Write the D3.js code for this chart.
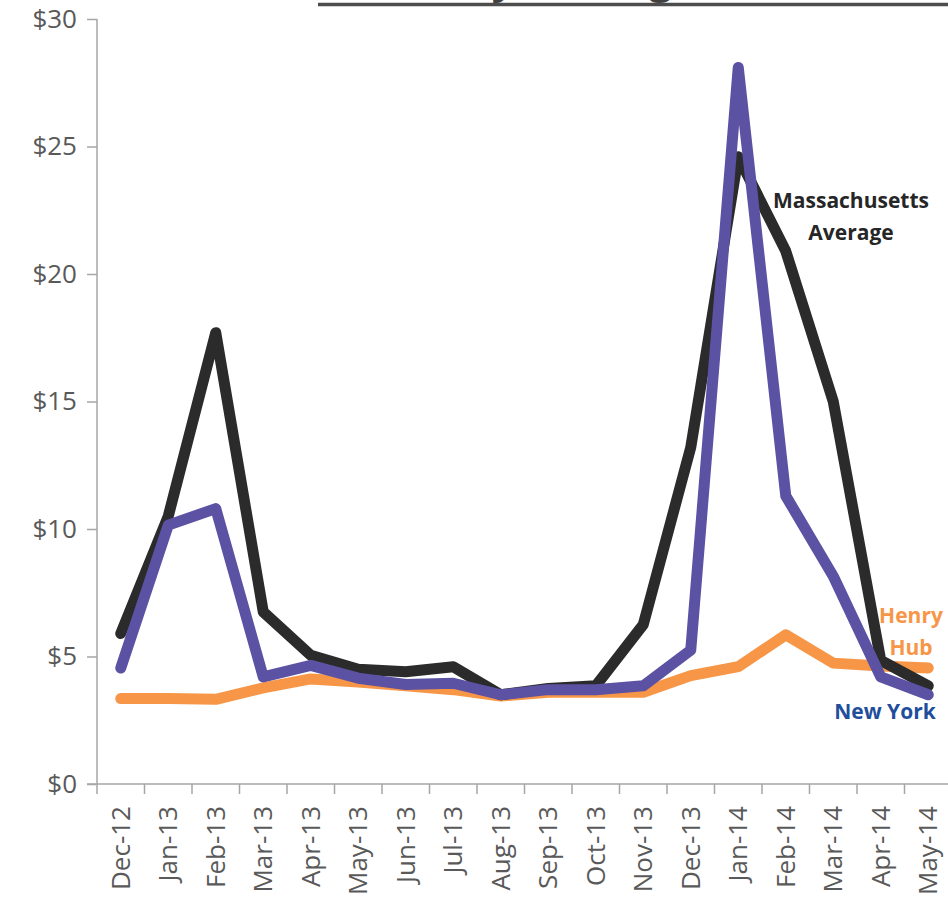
<!DOCTYPE html>
<html>
<head>
<meta charset="utf-8">
<script src="https://cdn.jsdelivr.net/npm/d3@7"></script>
<style>
  html, body { margin: 0; padding: 0; background: #fff; overflow: hidden; }
  svg { display: block; }
</style>
</head>
<body>
<script>
// 月份类目
const months = ["Dec-12", "Jan-13", "Feb-13", "Mar-13", "Apr-13", "May-13", "Jun-13", "Jul-13", "Aug-13",
  "Sep-13", "Oct-13", "Nov-13", "Dec-13", "Jan-14", "Feb-14", "Mar-14", "Apr-14", "May-14"];

// 各系列数值（$/MMBtu，从图上估读）
const massAvg = [5.9, 10.5, 17.7, 6.75, 5.05, 4.5, 4.4, 4.6, 3.5, 3.75, 3.85, 6.25, 13.2, 24.6, 20.9, 15.0, 4.85, 3.85];
const newYork = [4.55, 10.15, 10.8, 4.2, 4.65, 4.15, 3.9, 3.95, 3.5, 3.7, 3.7, 3.85, 5.25, 28.1, 11.3, 8.15, 4.2, 3.5];
const henryHub = [3.35, 3.35, 3.32, 3.77, 4.12, 4.0, 3.85, 3.7, 3.45, 3.6, 3.6, 3.6, 4.25, 4.6, 5.85, 4.74, 4.63, 4.55];

const yTicks = [0, 5, 10, 15, 20, 25, 30];

const width = 948;
const height = 901;
const margin = { top: 19, left: 97, bottom: 117 };
const plotBottom = height - margin.bottom; // 784
const bandW = 47.5;

const svg = d3.create("svg")
  .attr("width", width)
  .attr("height", height)
  .style("font-family", "'Open Sans', sans-serif");

// x 使用 band 比例尺，点位于每个月的中间
const x = d3.scaleBand()
  .domain(months)
  .range([margin.left, margin.left + bandW * months.length])
  .padding(0);

const y = d3.scaleLinear()
  .domain([0, 30])
  .range([plotBottom, margin.top]);

const axisColor = "#a6a6a6";

// y 轴
const gy = svg.append("g")
  .attr("transform", `translate(${margin.left},0)`)
  .call(d3.axisLeft(y).tickValues(yTicks).tickSize(10).tickPadding(10).tickFormat(d => "$" + d));
gy.select(".domain").attr("stroke", axisColor).attr("stroke-width", 1.5).attr("d", `M0,${margin.top}V${plotBottom}`);
gy.selectAll(".tick line").attr("stroke", axisColor).attr("stroke-width", 1.5);
gy.selectAll(".tick text")
  .attr("fill", "#595959")
  .style("font-size", "26px")
  .style("font-family", "'Open Sans', sans-serif");

// x 轴：刻度线在类目之间
const gx = svg.append("g")
  .attr("transform", `translate(0,${plotBottom})`);
gx.append("line")
  .attr("x1", margin.left - 10).attr("x2", width)
  .attr("stroke", axisColor).attr("stroke-width", 1.5);
gx.selectAll("line.tk")
  .data(months.concat(["__end"]))
  .join("line")
  .attr("class", "tk")
  .attr("x1", (d, i) => i < months.length ? x(d) : x(months[months.length - 1]) + x.bandwidth())
  .attr("x2", (d, i) => i < months.length ? x(d) : x(months[months.length - 1]) + x.bandwidth())
  .attr("y1", 0).attr("y2", 10)
  .attr("stroke", axisColor).attr("stroke-width", 1.5);
gx.selectAll("text")
  .data(months)
  .join("text")
  .attr("transform", d => `translate(${x(d) + x.bandwidth() / 2},22) rotate(-90)`)
  .attr("text-anchor", "end")
  .attr("dy", "0.35em")
  .attr("fill", "#595959")
  .style("font-size", "26px")
  .text(d => d);

// 折线
const line = d3.line()
  .x((d, i) => x(months[i]) + x.bandwidth() / 2)
  .y(d => y(d));

const series = [
  { name: "Henry Hub", values: henryHub, color: "#f79646" },
  { name: "Massachusetts Average", values: massAvg, color: "#2b2b2b" },
  { name: "New York", values: newYork, color: "#5b52a3" }
];

svg.append("g")
  .attr("fill", "none")
  .attr("stroke-width", 11)
  .attr("stroke-linejoin", "round")
  .attr("stroke-linecap", "round")
  .selectAll("path")
  .data(series)
  .join("path")
  .attr("stroke", d => d.color)
  .attr("d", d => line(d.values));

// 系列标签
const labels = [
  { lines: ["Massachusetts", "Average"], color: "#262626", x: 851, y: 208 },
  { lines: ["Henry", "Hub"], color: "#f79646", x: 911, y: 623 },
  { lines: ["New York"], color: "#1f4e9c", x: 885, y: 719 }
];
const lab = svg.append("g")
  .style("font-size", "21px")
  .style("font-weight", "bold")
  .attr("text-anchor", "middle");
labels.forEach(l => {
  l.lines.forEach((t, i) => {
    lab.append("text")
      .attr("x", l.x)
      .attr("y", l.y + i * 32)
      .attr("fill", l.color)
      .text(t);
  });
});

// 被裁掉的标题与下划线
svg.append("text")
  .attr("x", 340)
  .attr("y", -7)
  .attr("fill", "#404040")
  .style("font-size", "42px")
  .style("font-weight", "bold")
  .text("Monthly Average Prices");
svg.append("line")
  .attr("x1", 318).attr("x2", width)
  .attr("y1", 4.5).attr("y2", 4.5)
  .attr("stroke", "#4d4d4d")
  .attr("stroke-width", 3.5);

d3.select("body").append(() => svg.node());
</script>
</body>
</html>
